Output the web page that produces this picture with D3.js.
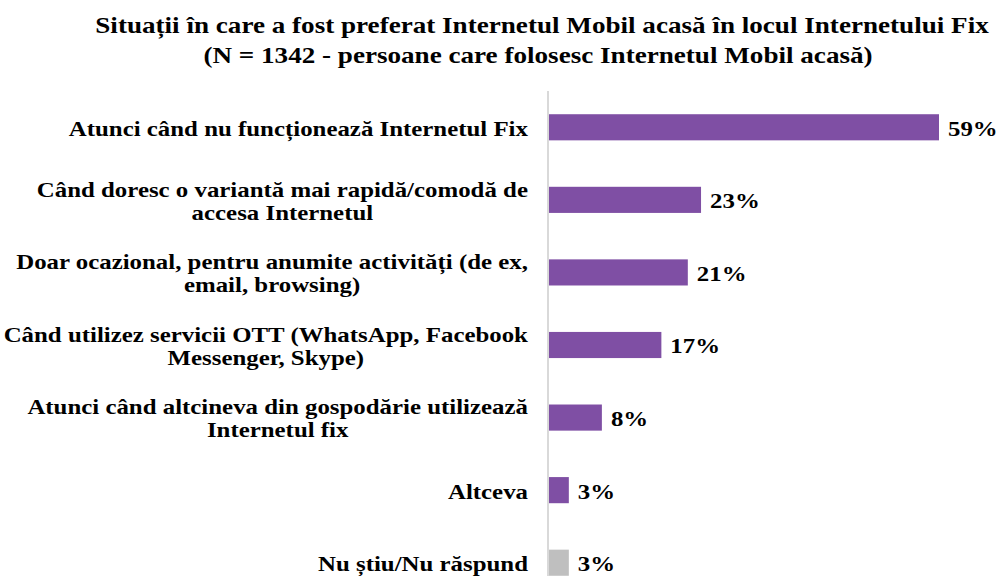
<!DOCTYPE html>
<html>
<head>
<meta charset="utf-8">
<script src="https://cdn.jsdelivr.net/npm/d3@7/dist/d3.min.js"></script>
<style>
  html, body { margin: 0; padding: 0; background: #fff; }
  svg { display: block; }
  text { font-family: "Liberation Serif", "Times New Roman", serif; font-weight: bold; fill: #000; }
</style>
</head>
<body>
<svg id="chart" width="1003" height="576"></svg>
<script>
const titleLines = [
  "Situații în care a fost preferat Internetul Mobil acasă în locul Internetului Fix",
  "(N = 1342 - persoane care folosesc Internetul Mobil acasă)"
];
const categories = [
  ["Atunci când nu funcționează Internetul Fix"],
  ["Când doresc o variantă mai rapidă/comodă de", "accesa Internetul"],
  ["Doar ocazional, pentru anumite activități (de ex,", "email, browsing)"],
  ["Când utilizez servicii OTT (WhatsApp, Facebook", "Messenger, Skype)"],
  ["Atunci când altcineva din gospodărie utilizează", "Internetul fix"],
  ["Altceva"],
  ["Nu știu/Nu răspund"]
];
const values = [59, 23, 21, 17, 8, 3, 3];
const barColors = ["#7F4FA4", "#7F4FA4", "#7F4FA4", "#7F4FA4", "#7F4FA4", "#7F4FA4", "#BFBFBF"];

const SX = 1.13; // horizontal stretch of the text
const svg = d3.select("#chart");
const x0 = 549, x1 = 939;
const x = d3.scaleLinear().domain([0, 59]).range([x0, x1]);
const y = d3.scaleBand().domain(d3.range(categories.length)).range([91, 599]).paddingInner(0.64).paddingOuter(0.32);

function stretched(sel, px, py) {
  sel.attr("transform", `translate(${px},${py}) scale(${SX},1)`);
}

// title
svg.append("g").selectAll("text").data(titleLines).join("text")
  .attr("text-anchor", "middle")
  .style("font-size", "24px")
  .text(d => d)
  .each(function(d, i) { stretched(d3.select(this), i === 0 ? 542 : 538, 33 + i * 30); });

// axis line
svg.append("line")
  .attr("x1", x0 - 1).attr("x2", x0 - 1)
  .attr("y1", 91).attr("y2", 576)
  .attr("stroke", "#D9D9D9").attr("stroke-width", 2);

// bars
svg.append("g").selectAll("rect").data(values).join("rect")
  .attr("x", x(0)).attr("y", (d, i) => y(i))
  .attr("width", d => x(d) - x(0)).attr("height", y.bandwidth())
  .attr("fill", (d, i) => barColors[i]);

// value labels
svg.append("g").selectAll("text").data(values).join("text")
  .attr("dy", "0.38em")
  .style("font-size", "22px")
  .text(d => d + "%")
  .each(function(d, i) { stretched(d3.select(this), x(d) + 9, y(i) + y.bandwidth() / 2); });

// category labels (block right-aligned, lines centred in block)
const labelRight = 528;
const lineH = 23;
const lg = svg.append("g");
categories.forEach((lines, i) => {
  const cy = y(i) + y.bandwidth() / 2;
  const g = lg.append("g");
  const ts = g.selectAll("text").data(lines).join("text")
    .style("font-size", "22px")
    .attr("dy", "0.38em")
    .attr("text-anchor", "middle")
    .text(d => d);
  const widths = ts.nodes().map(n => n.getComputedTextLength() * SX);
  const w = d3.max(widths);
  ts.each(function(d, j) {
    stretched(d3.select(this), labelRight - w / 2, cy + (j - (lines.length - 1) / 2) * lineH);
  });
});
</script>
</body>
</html>
